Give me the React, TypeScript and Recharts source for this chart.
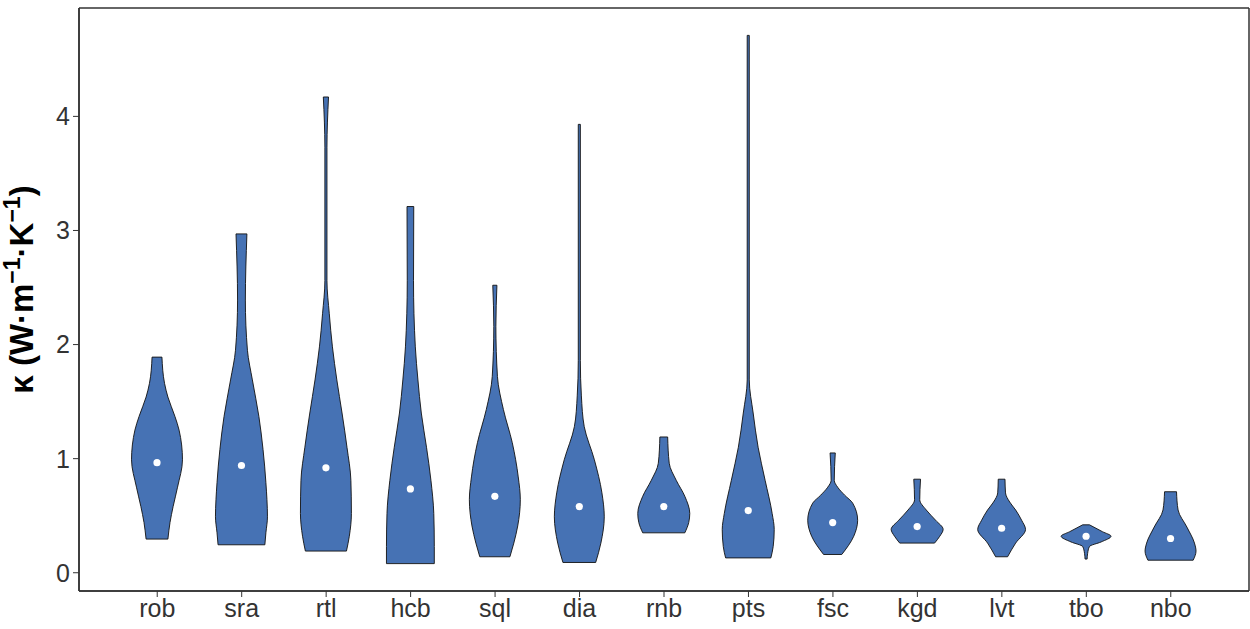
import { ComposedChart, Bar, XAxis, YAxis, CartesianGrid } from "recharts";

const categories = ["rob", "sra", "rtl", "hcb", "sql", "dia", "rnb", "pts", "fsc", "kgd", "lvt", "tbo", "nbo"];
const minValues = [0.295, 0.245, 0.19, 0.08, 0.14, 0.09, 0.35, 0.13, 0.16, 0.26, 0.14, 0.12, 0.11];
const maxValues = [1.89, 2.97, 4.17, 3.21, 2.52, 3.93, 1.19, 4.71, 1.05, 0.82, 0.82, 0.42, 0.71];
const medians = [0.965, 0.94, 0.92, 0.735, 0.67, 0.58, 0.58, 0.545, 0.44, 0.405, 0.39, 0.32, 0.3];

// [kappa, relative density] read top to bottom, density 1 = widest violin
const profiles: number[][][] = [
  [[1.89, 0.19], [1.66, 0.29], [1.54, 0.42], [1.37, 0.69], [1.25, 0.85], [0.99, 0.98], [0.75, 0.79], [0.58, 0.62], [0.44, 0.5], [0.295, 0.42]],
  [[2.97, 0.21], [2.39, 0.15], [1.95, 0.23], [1.69, 0.42], [1.37, 0.67], [1.08, 0.83], [0.79, 0.94], [0.49, 1.0], [0.35, 0.94], [0.245, 0.9]],
  [[4.17, 0.1], [3.73, 0.04], [2.56, 0.04], [2.27, 0.13], [1.98, 0.25], [1.69, 0.42], [1.4, 0.62], [1.1, 0.81], [0.81, 0.96], [0.52, 0.98], [0.32, 0.9], [0.19, 0.79]],
  [[3.21, 0.13], [2.56, 0.12], [1.98, 0.19], [1.69, 0.29], [1.4, 0.42], [1.1, 0.62], [0.81, 0.79], [0.52, 0.9], [0.23, 0.92], [0.08, 0.92]],
  [[2.52, 0.08], [2.16, 0.04], [1.72, 0.1], [1.43, 0.33], [1.14, 0.67], [0.84, 0.9], [0.64, 0.98], [0.41, 0.88], [0.26, 0.73], [0.14, 0.58]],
  [[3.93, 0.04], [1.86, 0.04], [1.55, 0.08], [1.28, 0.19], [0.99, 0.58], [0.7, 0.87], [0.49, 0.96], [0.26, 0.83], [0.09, 0.63]],
  [[1.19, 0.15], [0.96, 0.21], [0.81, 0.48], [0.67, 0.81], [0.52, 1.0], [0.44, 0.96], [0.35, 0.81]],
  [[4.71, 0.04], [1.69, 0.04], [1.4, 0.19], [1.1, 0.38], [0.81, 0.65], [0.52, 0.92], [0.38, 1.0], [0.23, 0.96], [0.13, 0.87]],
  [[1.05, 0.1], [0.81, 0.06], [0.75, 0.19], [0.68, 0.46], [0.61, 0.77], [0.46, 0.96], [0.32, 0.81], [0.16, 0.35]],
  [[0.82, 0.13], [0.64, 0.1], [0.55, 0.35], [0.46, 0.71], [0.38, 1.0], [0.32, 0.87], [0.26, 0.67]],
  [[0.82, 0.13], [0.7, 0.15], [0.62, 0.31], [0.55, 0.54], [0.46, 0.77], [0.38, 0.92], [0.26, 0.54], [0.14, 0.23]],
  [[0.42, 0.13], [0.36, 0.63], [0.32, 0.96], [0.27, 0.58], [0.23, 0.13], [0.17, 0.06], [0.12, 0.04]],
  [[0.71, 0.23], [0.55, 0.29], [0.4, 0.63], [0.26, 0.92], [0.19, 0.98], [0.11, 0.87]],
];

const yTicks = [0, 1, 2, 3, 4];

const data = categories.map((name, i) => ({
  name,
  range: [minValues[i], maxValues[i]],
  median: medians[i],
  profile: profiles[i],
}));

const FILL = "#4672B4";
const FONT = "'Liberation Sans', Arial, sans-serif";
const AXIS = "#333";

// monotone cubic (x as a function of y) so thin necks don't overshoot
function monotoneSegments(pts: { x: number; y: number }[]) {
  const n = pts.length;
  if (n < 2) return "";
  const h: number[] = [];
  const s: number[] = [];
  for (let i = 0; i < n - 1; i++) {
    h[i] = pts[i + 1].y - pts[i].y;
    s[i] = h[i] === 0 ? 0 : (pts[i + 1].x - pts[i].x) / h[i];
  }
  const m: number[] = new Array(n).fill(0);
  for (let i = 1; i < n - 1; i++) {
    const s0 = s[i - 1];
    const s1 = s[i];
    const p = (s0 * h[i] + s1 * h[i - 1]) / (h[i - 1] + h[i]);
    m[i] = (Math.sign(s0) + Math.sign(s1)) * Math.min(Math.abs(s0), Math.abs(s1), 0.5 * Math.abs(p)) || 0;
  }
  if (n > 2) {
    m[0] = h[0] ? ((3 * (pts[1].x - pts[0].x)) / h[0] - m[1]) / 2 : 0;
    m[n - 1] = h[n - 2] ? ((3 * (pts[n - 1].x - pts[n - 2].x)) / h[n - 2] - m[n - 2]) / 2 : 0;
  } else {
    m[0] = m[1] = s[0];
  }
  let d = "";
  for (let i = 0; i < n - 1; i++) {
    const dy = h[i] / 3;
    d += ` C${pts[i].x + m[i] * dy},${pts[i].y + dy} ${pts[i + 1].x - m[i + 1] * dy},${pts[i + 1].y - dy} ${pts[i + 1].x},${pts[i + 1].y}`;
  }
  return d;
}

function Violin(props: any) {
  const { x, y, width, height, payload } = props;
  if (!payload) return null;
  const [lo, hi] = payload.range;
  const top = Math.min(y, y + height);
  const span = Math.abs(height);
  const toPx = (v: number) => top + ((hi - v) / (hi - lo)) * span;
  const cx = x + width / 2;
  const prof: number[][] = payload.profile;

  const right = prof.map(([v, d]) => ({ x: cx + (d * width) / 2, y: toPx(v) }));
  const left = prof.map(([v, d]) => ({ x: cx - (d * width) / 2, y: toPx(v) }));
  const leftUp = [...left].reverse();

  const d =
    `M${left[0].x},${left[0].y} L${right[0].x},${right[0].y}` +
    monotoneSegments(right) +
    ` L${left[left.length - 1].x},${left[left.length - 1].y}` +
    monotoneSegments(leftUp) +
    " Z";

  return (
    <g>
      <path d={d} fill={FILL} stroke="#111" strokeWidth={0.9} strokeLinejoin="round" />
      <circle cx={cx} cy={toPx(payload.median)} r={3.6} fill="#fff" />
    </g>
  );
}

function AxisTitle(props: any) {
  const vb = props.viewBox ?? { x: 0, y: 8, width: 79, height: 583 };
  const cx = vb.x + 33;
  const cy = vb.y + vb.height / 2 - 10;
  return (
    <text
      x={cx}
      y={cy}
      transform={`rotate(-90, ${cx}, ${cy})`}
      textAnchor="middle"
      fontFamily={FONT}
      fontWeight="bold"
      fontSize={33}
      fill="#000"
    >
      κ  (W·m
      <tspan dy={-13} fontSize={23}>−1</tspan>
      <tspan dy={13}>·K</tspan>
      <tspan dy={-13} fontSize={23}>−1</tspan>
      <tspan dy={13}>)</tspan>
    </text>
  );
}

export default function App() {
  return (
    <div style={{ position: "absolute", left: 0, top: 0, background: "#fff" }}>
      <ComposedChart
        width={1250}
        height={629}
        data={data}
        margin={{ top: 8, right: 1, bottom: 0, left: 0 }}
      >
        {/* panel border: only the outer edges of the plot area */}
        <CartesianGrid
          stroke={AXIS}
          strokeWidth={1.5}
          horizontalCoordinatesGenerator={({ offset }: any) => [offset.top, offset.top + offset.height]}
          verticalCoordinatesGenerator={({ offset }: any) => [offset.left, offset.left + offset.width]}
        />
        <XAxis
          dataKey="name"
          type="category"
          padding={{ left: 36, right: 36 }}
          height={38}
          tickSize={6}
          tickMargin={2}
          axisLine={{ stroke: AXIS, strokeWidth: 1.5 }}
          tickLine={{ stroke: AXIS }}
          tick={{ fontSize: 25, fill: "#333", fontFamily: FONT }}
          interval={0}
        />
        <YAxis
          type="number"
          domain={[-0.16, 4.95]}
          allowDataOverflow
          ticks={yTicks}
          width={79}
          tickSize={6}
          tickMargin={3}
          axisLine={{ stroke: AXIS, strokeWidth: 1.5 }}
          tickLine={{ stroke: AXIS }}
          tick={{ fontSize: 25, fill: "#333", fontFamily: FONT }}
          label={{ content: (p: any) => <AxisTitle {...p} /> }}
        />
        <Bar dataKey="range" barSize={52} shape={(p: any) => <Violin {...p} />} isAnimationActive={false} />
      </ComposedChart>
    </div>
  );
}
